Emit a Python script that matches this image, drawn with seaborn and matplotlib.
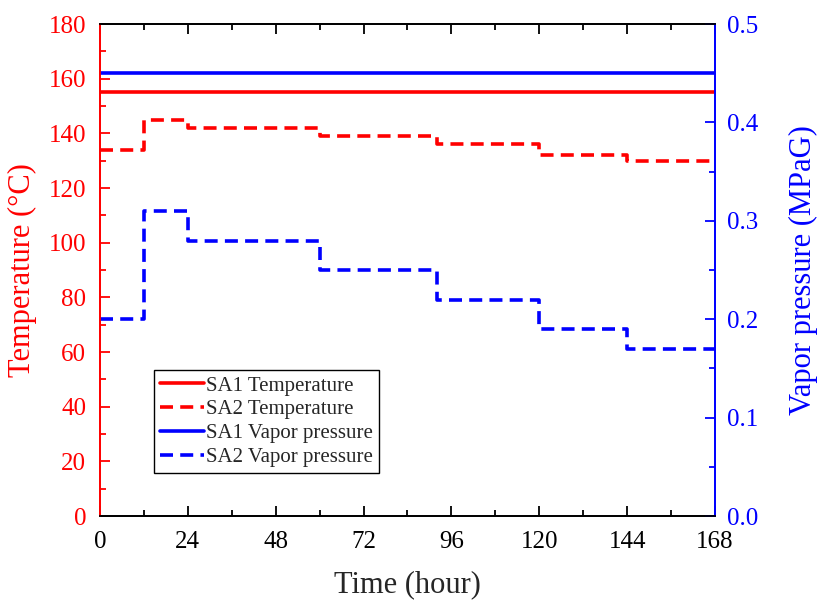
import matplotlib
matplotlib.use("Agg")
import matplotlib.pyplot as plt
from matplotlib.ticker import MultipleLocator
import seaborn as sns
import pandas as pd

# Step start times (hours) and the level held until the next step
step_times = [0, 12, 24, 60, 92, 120, 144]
end_time = 168
sa1_temperature = 155
sa1_pressure = 0.45
sa2_temperature = [134, 145, 142, 139, 136, 132, 130]
sa2_pressure = [0.20, 0.31, 0.28, 0.25, 0.22, 0.19, 0.17]

x_ticks = [0, 24, 48, 72, 96, 120, 144, 168]

sns.set_style("ticks")
plt.rcParams["font.family"] = ["Liberation Serif", "DejaVu Serif"]
plt.rcParams["mathtext.fontset"] = "stix"


def stepped(values):
    return pd.DataFrame({"t": step_times + [end_time],
                         "v": list(values) + [values[-1]]})


t_const = pd.DataFrame({"t": [0, end_time], "v": [sa1_temperature] * 2})
p_const = pd.DataFrame({"t": [0, end_time], "v": [sa1_pressure] * 2})

fig = plt.figure(figsize=(8.19, 6.01), dpi=100)
ax = fig.add_axes([0.1221, 0.1414, 0.7509, 0.8186])
ax2 = ax.twinx()

red = "#ff0000"
blue = "#0000ff"
lw = 2.6
dash = (0, (3.6, 2.0))

sns.lineplot(data=t_const, x="t", y="v", ax=ax, color=red, lw=lw,
             label="SA1 Temperature", legend=False)
sns.lineplot(data=stepped(sa2_temperature), x="t", y="v", ax=ax, color=red,
             lw=lw, linestyle=dash, drawstyle="steps-post",
             label="SA2 Temperature", legend=False)
sns.lineplot(data=p_const, x="t", y="v", ax=ax2, color=blue, lw=lw,
             label="SA1 Vapor pressure", legend=False)
sns.lineplot(data=stepped(sa2_pressure), x="t", y="v", ax=ax2, color=blue,
             lw=lw, linestyle=dash, drawstyle="steps-post",
             label="SA2 Vapor pressure", legend=False)

ax.set_xlim(0, 168)
ax.set_ylim(0, 180)
ax2.set_ylim(0, 0.5)
ax.set_xticks(x_ticks)
ax.xaxis.set_minor_locator(MultipleLocator(12))
ax.yaxis.set_major_locator(MultipleLocator(20))
ax.yaxis.set_minor_locator(MultipleLocator(10))
ax2.yaxis.set_major_locator(MultipleLocator(0.1))
ax2.yaxis.set_minor_locator(MultipleLocator(0.05))
ax2.set_yticklabels([f"{v:.1f}" for v in ax2.get_yticks()])

ax.set_xlabel("Time (hour)", fontsize=22, labelpad=12)
ax.set_ylabel("Temperature (°C)", fontsize=22, color=red, labelpad=8)
ax2.set_ylabel("Vapor pressure (MPaG)", fontsize=22, color=blue, labelpad=22)

for a in (ax, ax2):
    for s in a.spines.values():
        s.set_linewidth(1.3)
        s.set_color("black")
ax.spines["left"].set_color(red)
ax2.spines["left"].set_color(red)
ax2.spines["right"].set_color(blue)
ax.spines["right"].set_color(blue)

ax.tick_params(axis="x", which="both", direction="in", top=True,
               labelsize=18, colors="black", pad=11)
ax.tick_params(axis="x", which="major", length=7, width=1.3)
ax.tick_params(axis="x", which="minor", length=4, width=1.3)
ax.tick_params(axis="y", which="both", direction="in", colors=red,
               labelsize=18, width=1.3, pad=10)
ax.tick_params(axis="y", which="major", length=7)
ax.tick_params(axis="y", which="minor", length=4)
ax2.tick_params(axis="y", which="both", direction="in", colors=blue,
                labelsize=18, width=1.3, pad=9)
ax2.tick_params(axis="y", which="major", length=7)
ax2.tick_params(axis="y", which="minor", length=4)

h1, l1 = ax.get_legend_handles_labels()
h2, l2 = ax2.get_legend_handles_labels()
leg = ax2.legend(h1 + h2, l1 + l2, loc="lower left",
                 bbox_to_anchor=(0.087, 0.087), fontsize=15, frameon=True,
                 fancybox=False, edgecolor="black", framealpha=1,
                 handlelength=2.1, handletextpad=0.1, labelspacing=0.2,
                 borderpad=0.3, borderaxespad=0)
leg.get_frame().set_linewidth(1.0)

fig.savefig("out.png", dpi=100)
